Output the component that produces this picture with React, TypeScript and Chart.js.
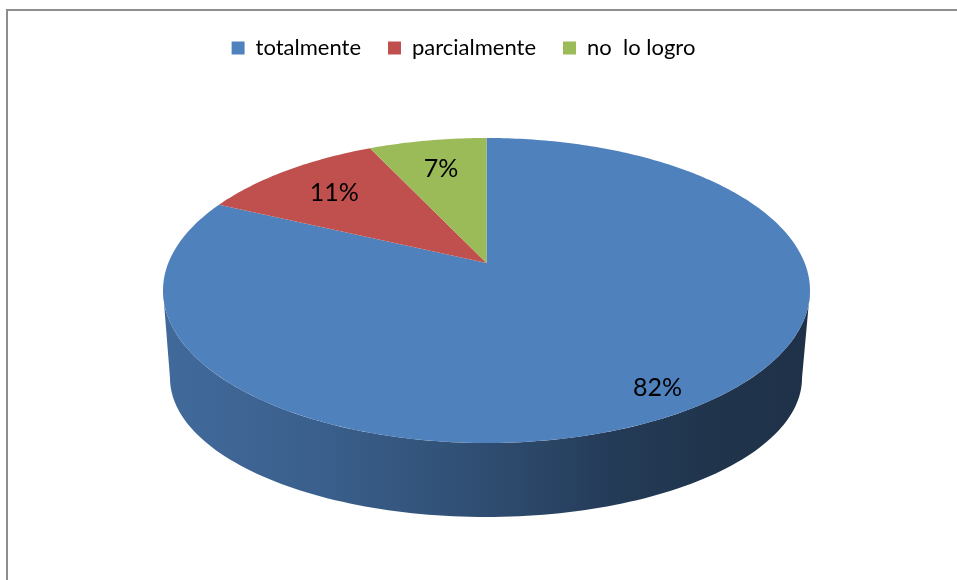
import React, { useEffect, useRef } from "react";
import { Chart, registerables } from "chart.js";

Chart.register(...registerables);

// ---- data ----
const categories = ["totalmente", "parcialmente", "no  lo logro"];
const values = [82, 11, 7];
const valueLabels = ["82%", "11%", "7%"];
const colors = ["#4f81bd", "#c0504d", "#9bbb59"];

const FONT = "Lato, 'Open Sans', sans-serif";

// ---- 3D projection layout ----
const TOP = { cx: 486.5, cy: 290.5, rx: 323.5, ry: 152.5 };
const BOT = { cx: 486, cy: 378, rx: 316, ry: 139 };
const PERSP = 0.18;
const sideStops: [number, number][] = [
  [0, 0.82],
  [0.25, 0.74],
  [0.5, 0.6],
  [0.7, 0.46],
  [0.85, 0.4],
  [1, 0.38],
];

function hexToRgb(h: string) {
  const n = parseInt(h.slice(1), 16);
  return [(n >> 16) & 255, (n >> 8) & 255, n & 255];
}
function shade(h: string, f: number) {
  const [r, g, b] = hexToRgb(h);
  return `rgb(${Math.round(r * f)},${Math.round(g * f)},${Math.round(b * f)})`;
}

function proj(u: number, v: number) {
  const a = -PERSP;
  const den = 1 + a * v;
  const up = (u * Math.sqrt(1 - a * a)) / den;
  const vp = (v + a) / den;
  return { x: TOP.cx + TOP.rx * up, y: TOP.cy + TOP.ry * vp, phi: Math.atan2(vp, up) };
}

const pie3d = {
  id: "pie3d",
  beforeDatasetsDraw(chart: any) {
    const ctx: CanvasRenderingContext2D = chart.ctx;
    const meta = chart.getDatasetMeta(0);
    const ds = chart.data.datasets[0];
    ctx.save();
    // side walls
    meta.data.forEach((arc: any, i: number) => {
      const s = arc.startAngle;
      const e = arc.endAngle;
      const ps = proj(Math.cos(s), Math.sin(s)).phi;
      let pe = proj(Math.cos(e), Math.sin(e)).phi;
      while (pe < ps) pe += Math.PI * 2;
      const col = ds.backgroundColor[i];
      const grad = ctx.createLinearGradient(TOP.cx - TOP.rx, 0, TOP.cx + TOP.rx, 0);
      sideStops.forEach(([p, f]) => grad.addColorStop(p, shade(col, f)));
      for (const off of [-2 * Math.PI, 0, 2 * Math.PI]) {
        const lo = Math.max(ps, off);
        const hi = Math.min(pe, off + Math.PI);
        if (hi <= lo) continue;
        const N = 120;
        ctx.beginPath();
        for (let k = 0; k <= N; k++) {
          const t = lo + ((hi - lo) * k) / N;
          const x = TOP.cx + TOP.rx * Math.cos(t);
          const y = TOP.cy + TOP.ry * Math.sin(t);
          if (k === 0) ctx.moveTo(x, y);
          else ctx.lineTo(x, y);
        }
        for (let k = N; k >= 0; k--) {
          const t = lo + ((hi - lo) * k) / N;
          ctx.lineTo(BOT.cx + BOT.rx * Math.cos(t), BOT.cy + BOT.ry * Math.sin(t));
        }
        ctx.closePath();
        ctx.fillStyle = grad;
        ctx.fill();
      }
    });
    // top faces
    const apex = proj(0, 0);
    meta.data.forEach((arc: any, i: number) => {
      const s = arc.startAngle;
      const e = arc.endAngle;
      const N = Math.max(8, Math.ceil(((e - s) / (Math.PI * 2)) * 400));
      ctx.beginPath();
      ctx.moveTo(apex.x, apex.y);
      for (let k = 0; k <= N; k++) {
        const a = s + ((e - s) * k) / N;
        const p = proj(Math.cos(a), Math.sin(a));
        ctx.lineTo(p.x, p.y);
      }
      ctx.closePath();
      ctx.fillStyle = ds.backgroundColor[i];
      ctx.fill();
    });
    // labels
    ctx.fillStyle = "#000";
    ctx.font = `25px ${FONT}`;
    ctx.textAlign = "center";
    ctx.textBaseline = "middle";
    meta.data.forEach((arc: any, i: number) => {
      const m = (arc.startAngle + arc.endAngle) / 2;
      const f = arc.circumference > Math.PI ? 0.87 : 0.74;
      const p = proj(f * Math.cos(m), f * Math.sin(m));
      ctx.fillText(valueLabels[i], p.x, p.y);
    });
    ctx.restore();
    return false;
  },
};

export default function App() {
  const ref = useRef<HTMLCanvasElement>(null);
  useEffect(() => {
    const chart = new Chart(ref.current!, {
      type: "pie",
      data: {
        labels: categories,
        datasets: [{ data: values, backgroundColor: colors, borderWidth: 0 }],
      },
      options: {
        responsive: false,
        animation: false,
        layout: { padding: { top: 10, right: 30, left: 0, bottom: 0 } },
        plugins: {
          legend: {
            position: "top",
            labels: {
              boxWidth: 13,
              boxHeight: 13,
              padding: 27,
              color: "#000",
              font: { family: FONT, size: 22 },
            },
          },
          tooltip: { enabled: false },
        },
      },
      plugins: [pie3d as any],
    });
    return () => chart.destroy();
  }, []);
  return (
    <div style={{ position: "fixed", left: 0, top: 0, width: 957, height: 580, overflow: "hidden", background: "#fff" }}>
      <div
        style={{
          position: "absolute",
          left: 6,
          top: 9,
          width: 1200,
          height: 1200,
          borderLeft: "2px solid #8e8e8e",
          borderTop: "2px solid #8e8e8e",
        }}
      />
      <canvas ref={ref} width={957} height={580} style={{ position: "absolute", left: 0, top: 0, display: "block" }} />
    </div>
  );
}
